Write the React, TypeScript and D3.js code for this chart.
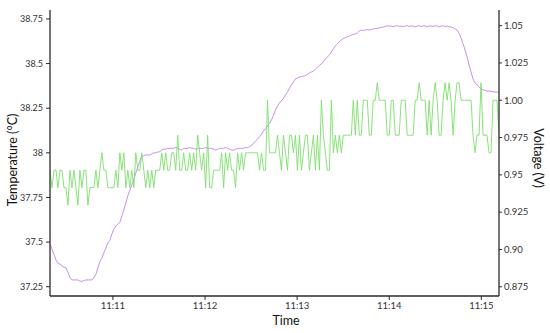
import React from 'react';
import * as d3 from 'd3';

const startTime = new Date(2020, 0, 1, 11, 10, 19);
const sampleSeconds = 1.3;

const temperature = [
  37.49, 37.46, 37.43, 37.40, 37.38, 37.377, 37.366, 37.36, 37.355, 37.33,
  37.30, 37.288, 37.288, 37.288, 37.288, 37.282, 37.279, 37.285, 37.288, 37.288,
  37.288, 37.288, 37.30, 37.32, 37.355, 37.39, 37.41, 37.44, 37.467, 37.495,
  37.51, 37.545, 37.573, 37.59, 37.60, 37.61, 37.646, 37.68, 37.72, 37.76,
  37.79, 37.82, 37.85, 37.887, 37.92, 37.954, 37.977, 37.985, 37.988, 37.988,
  37.988, 37.993, 38.0, 38.0, 38.005, 38.006, 38.016, 38.021, 38.021, 38.024,
  38.025, 38.025, 38.025, 38.03, 38.025, 38.02, 38.015, 38.025, 38.025, 38.025,
  38.03, 38.025, 38.025, 38.02, 38.025, 38.025, 38.025, 38.025, 38.03, 38.025,
  38.025, 38.025, 38.02, 38.015, 38.02, 38.025, 38.025, 38.025, 38.03, 38.025,
  38.02, 38.015, 38.015, 38.02, 38.025, 38.025, 38.025, 38.025, 38.03, 38.029,
  38.035, 38.04, 38.055, 38.066, 38.077, 38.089, 38.105, 38.122, 38.136, 38.15,
  38.167, 38.184, 38.21, 38.24, 38.262, 38.279, 38.293, 38.304, 38.324, 38.34,
  38.363, 38.38, 38.397, 38.414, 38.42, 38.425, 38.428, 38.43, 38.433, 38.44,
  38.447, 38.453, 38.458, 38.47, 38.48, 38.49, 38.498, 38.51, 38.526, 38.537,
  38.548, 38.565, 38.582, 38.599, 38.61, 38.623, 38.632, 38.64, 38.646, 38.65,
  38.654, 38.66, 38.663, 38.666, 38.671, 38.682, 38.688, 38.685, 38.688, 38.69,
  38.688, 38.69, 38.694, 38.697, 38.697, 38.7, 38.702, 38.705, 38.708, 38.712,
  38.71, 38.71, 38.706, 38.71, 38.712, 38.708, 38.71, 38.706, 38.71, 38.712,
  38.708, 38.71, 38.71, 38.706, 38.71, 38.712, 38.708, 38.71, 38.712, 38.706,
  38.71, 38.71, 38.708, 38.712, 38.71, 38.706, 38.71, 38.712, 38.708, 38.71,
  38.706, 38.705, 38.70, 38.694, 38.688, 38.67, 38.643, 38.61, 38.576, 38.537,
  38.492, 38.453, 38.414, 38.39, 38.38, 38.37, 38.357, 38.352, 38.35, 38.346,
  38.346, 38.343, 38.343, 38.34, 38.34, 38.34,
];

const voltage = [
  0.9531, 0.9414, 0.9531, 0.9531, 0.9414, 0.9531, 0.9531, 0.9414, 0.9414, 0.9297,
  0.9531, 0.9414, 0.9531, 0.9414, 0.9297, 0.9531, 0.9414, 0.9531, 0.9531, 0.9297,
  0.9414, 0.9414, 0.9414, 0.9531, 0.9414, 0.9531, 0.9648, 0.9531, 0.9531, 0.9414,
  0.9414, 0.9414, 0.9414, 0.9531, 0.9414, 0.9648, 0.9531, 0.9648, 0.9414, 0.9531,
  0.9414, 0.9531, 0.9414, 0.9648, 0.9531, 0.9531,
  0.9648, 0.9531, 0.9414, 0.9531, 0.9414, 0.9531, 0.9414, 0.9531, 0.9531, 0.9531,
  0.9648, 0.9531, 0.9648, 0.9531, 0.9531, 0.9648, 0.9648, 0.9531, 0.9766, 0.9531,
  0.9531, 0.9648, 0.9531, 0.9531, 0.9648, 0.9531, 0.9648, 0.9531, 0.9766, 0.9648,
  0.9531, 0.9648, 0.9414, 0.9766, 0.9414, 0.9414, 0.9531, 0.9531, 0.9531, 0.9531,
  0.9648, 0.9414, 0.9648, 0.9531, 0.9648,
  0.9531, 0.9531, 0.9414, 0.9648, 0.9531, 0.9648, 0.9531, 0.9648, 0.9648, 0.9648,
  0.9648, 0.9648, 0.9648, 0.9648, 0.9531, 0.9648, 0.9531, 0.9531, 1.0, 0.9648,
  0.9648, 0.9648, 0.9648, 0.9766, 0.9648, 0.9531, 0.9766, 0.9648, 0.9531, 0.9766,
  0.9766, 0.9648, 0.9766, 0.9531, 0.9766, 0.9531, 0.9648, 0.9766, 0.9766, 0.9531,
  0.9648, 0.9766, 0.9531, 0.9766, 0.9531,
  1.0, 0.9766, 0.9648, 0.9531, 0.9531, 1.0, 0.9648, 0.9766, 0.9648, 0.9766,
  0.9648, 0.9766, 0.9766, 0.9766, 0.9766, 0.9766, 1.0, 0.9766, 1.0, 0.9766,
  0.9766, 1.0, 1.0, 1.0, 0.9766, 0.9766, 1.0, 1.0, 1.0117, 1.0,
  1.0, 1.0, 1.0, 0.9766, 0.9766, 1.0, 1.0, 0.9766, 0.9766, 0.9766,
  1.0, 1.0, 1.0, 0.9766, 0.9766,
  0.9766, 0.9766, 1.0, 1.0, 1.0117, 1.0, 1.0, 1.0, 0.9766, 1.0,
  0.9766, 1.0, 1.0117, 1.0, 0.9766, 0.9766, 1.0, 1.0117, 1.0, 1.0117,
  1.0, 0.9766, 1.0, 1.0117, 1.0117, 1.0, 1.0, 1.0, 1.0, 1.0,
  1.0, 0.9766, 0.9648, 0.9766, 0.9766, 1.0117, 0.9766, 0.9766, 0.9766, 0.9648,
  0.9648, 1.0, 1.0, 1.0, 0.9766,
];

const tempTicks = [37.25, 37.5, 37.75, 38, 38.25, 38.5, 38.75];
const tempTickLabels = ['37.25', '37.5', '37.75', '38', '38.25', '38.5', '38.75'];
const voltTicks = [0.875, 0.9, 0.925, 0.95, 0.975, 1.0, 1.025, 1.05];
const voltTickLabels = ['0.875', '0.90', '0.925', '0.95', '0.975', '1.00', '1.025', '1.05'];

const FONT = 'Lato, "Open Sans", sans-serif';

export default function App() {
  const W = 550;
  const H = 333;
  const left = 50;
  const right = 499;
  const top = 10;
  const bottom = 296;

  const times = temperature.map((_, i) => new Date(startTime.getTime() + i * sampleSeconds * 1000));
  const x = d3.scaleTime().domain([startTime, times[times.length - 1]]).range([left, right]);
  const yT = d3.scaleLinear().domain([37.198, 38.8]).range([bottom, top]);
  const yV = d3.scaleLinear().domain([0.8688, 1.0605]).range([bottom, top]);

  const tempLine = d3.line<number>().x((_, i) => x(times[i])).y((d) => yT(d));
  const voltLine = d3.line<number>().x((_, i) => x(times[i])).y((d) => yV(d));

  const timeTicks = x.ticks(d3.timeMinute.every(1) as any);
  const fmt = d3.timeFormat('%H:%M');
  const axisColor = '#2b2b2b';

  return (
    <div style={{ position: 'absolute', left: 0, top: 0 }}>
      <svg width={W} height={H} style={{ display: 'block', background: '#fff' }}>
        <defs>
          <clipPath id="plot">
            <rect x={left} y={top} width={right - left} height={bottom - top} />
          </clipPath>
        </defs>
        <g clipPath="url(#plot)">
          <path d={tempLine(temperature) || ''} fill="none" stroke="#c98ef2" strokeWidth={1} />
          <path d={voltLine(voltage) || ''} fill="none" stroke="#7ddf6c" strokeWidth={0.9} />
        </g>
        <line x1={left} x2={left} y1={top} y2={bottom} stroke={axisColor} strokeWidth={1.3} />
        <line x1={right} x2={right} y1={top} y2={bottom} stroke={axisColor} strokeWidth={1.3} />
        <line x1={left} x2={right} y1={bottom} y2={bottom} stroke={axisColor} strokeWidth={1.3} />
        {tempTicks.map((t, i) => (
          <g key={'lt' + i}>
            <line x1={left - 4} x2={left} y1={yT(t)} y2={yT(t)} stroke={axisColor} strokeWidth={1} />
            <text x={left - 7} y={yT(t)} dy="0.35em" textAnchor="end" fontFamily={FONT} fontSize={9} fill="#333">
              {tempTickLabels[i]}
            </text>
          </g>
        ))}
        {voltTicks.map((t, i) => (
          <g key={'rt' + i}>
            <line x1={right} x2={right + 3} y1={yV(t)} y2={yV(t)} stroke={axisColor} strokeWidth={1} />
            <text x={right + 5} y={yV(t)} dy="0.35em" textAnchor="start" fontFamily={FONT} fontSize={9.5} fill="#333">
              {voltTickLabels[i]}
            </text>
          </g>
        ))}
        {timeTicks.map((t, i) => (
          <g key={'bt' + i}>
            <line x1={x(t)} x2={x(t)} y1={bottom} y2={bottom + 4} stroke={axisColor} strokeWidth={1} />
            <text x={x(t)} y={bottom + 13} textAnchor="middle" fontFamily={FONT} fontSize={9.5} fill="#333">
              {fmt(t)}
            </text>
          </g>
        ))}
        <text x={286} y={325} textAnchor="middle" fontFamily={FONT} fontSize={12.5} fill="#111">Time</text>
        <text transform="translate(17,160) rotate(-90)" textAnchor="middle" fontFamily={FONT} fontSize={12.5} fill="#111">
          Temperature (°C)
        </text>
        <text transform="translate(534,158) rotate(90)" textAnchor="middle" fontFamily={FONT} fontSize={12.5} fill="#111">
          Voltage (V)
        </text>
      </svg>
    </div>
  );
}
